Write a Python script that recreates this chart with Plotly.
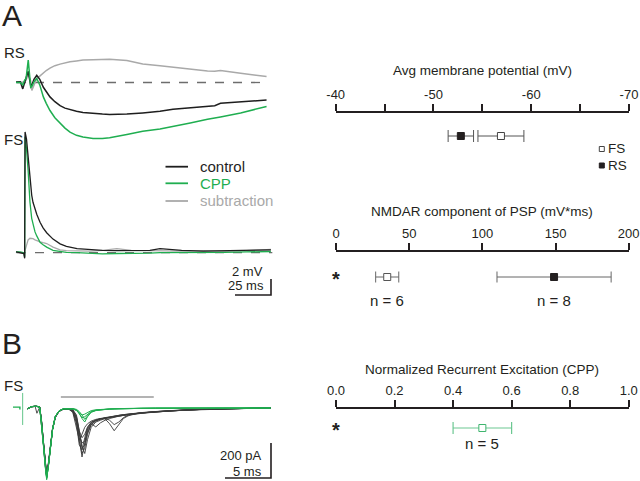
import plotly.graph_objects as go

# ---------------- DATA ----------------
# Panel A, RS cell (time in ms, membrane potential change in mV)
rs_t = [0, 3, 4.7, 6, 7, 8.5, 10.2, 11, 12.5, 14.4, 16.5, 19, 21, 23.6, 27, 30.6, 34, 37.5, 42, 46.5,
        53.5, 60, 65, 77, 88, 100, 109, 121, 133, 138, 142, 156, 165, 174]
rs_control = [0.05, 0.1, -0.8, 0.1, 0.6, 1.4, -0.4, -0.3, 0.4, 0.9, 0.4, -0.6, -1.1, -1.8, -2.4, -2.9, -3.2, -3.4,
              -3.6, -3.75, -3.9, -3.95, -4.0, -3.95, -3.8, -3.6, -3.35, -3.15, -2.95, -2.9, -2.6, -2.45, -2.35, -2.2]
rs_cpp = [0.0, 0.0, -0.3, 0.3, 0.5, 2.8, -0.6, -0.5, 0.1, 0.5, -0.3, -1.8, -2.6, -3.5, -4.4, -5.1, -5.7, -6.2,
          -6.6, -6.8, -7.0, -7.0, -6.9, -6.5, -6.1, -5.8, -5.5, -5.05, -4.6, -4.4, -4.3, -3.8, -3.4, -3.0]
rs_sub = [0, 0, 0, 0.1, 0.3, 1.0, 0.2, -1.0, -0.4, 0.5, 0.8, 1.2, 1.5, 1.8, 2.1, 2.3, 2.45, 2.6, 2.7, 2.8,
          2.85, 2.9, 2.9, 2.75, 2.3, 2.1, 1.9, 1.7, 1.45, 1.4, 1.5, 1.15, 0.95, 0.75]

# Panel A, FS cell
fs_t = [0, 3, 5.5, 6.0, 6.3, 7.3, 8.4, 9.7, 10.9, 11.8, 13.2, 14.4, 16.7, 18.8, 21.3, 25.7, 30.6, 35, 42.4, 51.4,
        60, 70, 80, 93, 100, 115, 130, 145, 160, 177]
fs_control = [0.1, 0.0, -0.1, -0.7, 15.1, 14.2, 11.8, 8.8, 7.2, 6.3, 5.4, 4.8, 3.8, 3.1, 2.5, 1.7, 1.1, 0.8, 0.5,
              0.35, 0.3, 0.25, 0.3, 0.3, 0.5, 0.3, 0.2, 0.25, 0.25, 0.35]
fs_cpp = [0.1, 0.1, 0.0, -0.5, 14.5, 13.0, 10.3, 6.3, 4.3, 3.5, 2.6, 2.1, 1.3, 1.0, 0.7, 0.3, 0.15, 0.05, 0.0,
          -0.1, -0.15, -0.1, -0.1, -0.05, 0.0, 0.0, 0.05, 0.05, 0.1, 0.15]
fs_sub = [0.0, 0.0, -0.1, -0.6, 0.3, 1.0, 1.6, 1.8, 1.8, 1.75, 1.6, 1.5, 1.35, 1.25, 1.15, 0.7, 0.35, 0.25, 0.2,
          0.2, 0.3, 0.5, 0.3, 0.25, 0.3, 0.2, 0.25, 0.2, 0.25, 0.4]
baseline_rs_t = [0.7, 175]
baseline_fs_t = [0.7, 178]

# Panel B, FS recurrent excitation currents (time in ms, current in pA)
b_t = [1.6, 2.0, 2.4, 2.6, 2.9, 3.1, 3.3, 3.5, 3.66, 3.85, 4.05, 4.3, 4.6, 5.0, 5.5, 6.0, 6.5, 6.9, 7.2, 7.5,
       7.8, 8.1, 8.5, 9.0, 9.5, 10.0, 10.5, 11.0, 11.5, 12.0, 12.5, 13.0, 14.0, 15.5, 17.0, 19.0, 21.0, 23.5, 26.0, 28.0]
b_control = [
    [-5, 8, 10, 10, 5, -80, -200, -320, -395, -320, -220, -120, -50, -18, -5, -5,
     -15, -60, -170, -280, -200, -120, -85, -70, -62, -56, -50, -46, -42, -38, -35, -32, -27, -21, -16, -11, -7, -4, -2, 0],
    [-3, 6, 9, 9, 4, -70, -190, -310, -380, -330, -230, -125, -55, -20, -6, -5,
     -20, -90, -210, -240, -170, -110, -80, -68, -60, -55, -50, -45, -41, -38, -35, -31, -26, -20, -15, -10, -7, -4, -2, 0],
    [-5, 8, 10, -30, 4, -85, -205, -330, -385, -310, -210, -115, -48, -17, -5, -6,
     -10, -40, -120, -220, -260, -180, -110, -80, -70, -60, -55, -50, -45, -41, -37, -33, -28, -22, -16, -11, -7, -4, -2, 0],
    [-4, 7, 10, 10, 6, -75, -195, -315, -390, -325, -225, -122, -52, -19, -6, -4,
     -25, -110, -180, -150, -110, -90, -75, -65, -60, -62, -90, -130, -95, -60, -45, -38, -30, -23, -17, -12, -8, -5, -2, 0],
    [-5, 8, 10, 10, 5, -78, -198, -318, -392, -322, -222, -121, -51, -18, -5, -5,
     -15, -70, -150, -200, -190, -130, -90, -108, -85, -70, -60, -52, -47, -42, -38, -34, -28, -22, -16, -11, -7, -4, -2, 0],
    [-3, 6, 9, 9, 4, -72, -192, -312, -382, -328, -228, -124, -54, -20, -6, -5,
     -10, -50, -130, -170, -150, -110, -85, -70, -62, -58, -52, -48, -44, -40, -36, -32, -27, -21, -16, -11, -7, -4, -2, 0],
    [-4, 7, 10, 10, 6, -76, -196, -316, -388, -324, -224, -121, -51, -19, -6, -4,
     -20, -80, -190, -260, -230, -150, -95, -75, -65, -57, -70, -95, -80, -55, -42, -35, -29, -22, -17, -11, -7, -4, -2, 0],
    [-5, 8, 10, 10, 5, -82, -202, -322, -397, -318, -218, -118, -49, -18, -5, -5,
     -12, -55, -140, -230, -210, -140, -95, -72, -63, -57, -52, -47, -43, -39, -36, -32, -27, -21, -15, -10, -7, -4, -2, 0],
]
b_cpp = [
    [-5, 8, 10, 10, 5, -85, -210, -330, -405, -330, -225, -120, -48, -16, -4, -3,
     -5, -10, -30, -60, -80, -50, -25, -15, -10, -8, -6, -5, -4, -3, -3, -2, -2, -1, -1, 0, 0, 0, 0, 0],
    [-4, 7, 9, 9, 4, -80, -205, -325, -400, -335, -230, -125, -50, -17, -5, -4,
     -5, -12, -35, -55, -50, -35, -20, -12, -9, -7, -6, -5, -4, -3, -3, -2, -2, -1, -1, 0, 0, 0, 0, 0],
    [-5, 8, 10, 10, 5, -88, -212, -335, -410, -328, -222, -118, -47, -16, -4, -3,
     -3, -8, -20, -40, -65, -45, -22, -14, -10, -8, -6, -5, -4, -3, -3, -2, -2, -1, -1, 0, 0, 0, 0, 0],
    [-4, 7, 9, 9, 4, -78, -200, -322, -398, -332, -228, -123, -50, -17, -5, -4,
     -6, -15, -30, -40, -35, -25, -15, -10, -8, -6, -5, -4, -3, -3, -2, -2, -1, -1, -1, 0, 0, 0, 0, 0],
]
b_artifact_t = [0.0, 0.75, 0.75]
b_artifact_v = [5, 5, -8]
b_stim_t = [1.05, 1.05]
b_stim_v = [86, -97]
b_window_t = [5.2, 15.3]
b_window_level = 63

# Scale bars
scale_a_ms, scale_a_mv = 25, 2
scale_b_ms, scale_b_pa = 5, 200

# Summary panels
groups = ["FS", "RS"]
vm_mean = [-56.9, -52.8]
vm_sem = [2.35, 1.3]
vm_ticks = [-40, -50, -60, -70]
vm_ticktext = ["-40", "-50", "-60", "-70"]
vm_minor = [-45, -55, -65]

nmda_mean = [35, 149]
nmda_sem = [7.9, 39]
nmda_n = [6, 8]
nmda_ticks = [0, 50, 100, 150, 200]

rec_mean = [0.50]
rec_sem = [0.10]
rec_n = [5]
rec_ticks = [0.0, 0.2, 0.4, 0.6, 0.8, 1.0]

# ---------------- STYLE / LAYOUT HELPERS ----------------
W, H = 640, 481
FONT = "Liberation Sans, Arial, sans-serif"
INK = "#231f20"
GREEN = "#1fae50"
GRAY = "#a9a9a9"
BLACK = "#1e1e1e"


def dom_x(p0, p1):
    return [p0 / W, p1 / W]


def dom_y(top, bottom):
    return [1 - bottom / H, 1 - top / H]


def cal_x(p0, p1, px0, ppu):
    return [(p0 - px0) / ppu, (p1 - px0) / ppu]


def cal_y(top, bottom, py0, ppu):
    return [(py0 - bottom) / ppu, (py0 - top) / ppu]


def pxx(x):
    return x / W


def pyy(y):
    return 1 - y / H


fig = go.Figure()


def line(x, y, xa, ya, color, width=1.5, dash=None, opacity=1.0):
    fig.add_trace(go.Scatter(x=x, y=y, xaxis=xa, yaxis=ya, mode="lines", opacity=opacity,
                             line=dict(color=color, width=width, dash=dash), showlegend=False,
                             hoverinfo="skip"))


# Panel A RS
line(baseline_rs_t, [0, 0], "x", "y", "#6d6d6d", 1.3, "dash")
line(rs_t, rs_sub, "x", "y", GRAY, 1.5)
line(rs_t, rs_control, "x", "y", BLACK, 1.5)
line(rs_t, rs_cpp, "x", "y", GREEN, 1.5)

# Panel A FS
line(baseline_fs_t, [0, 0], "x2", "y2", "#6d6d6d", 1.3, "dash")
line(fs_t, fs_sub, "x2", "y2", GRAY, 1.3)
line(fs_t, fs_cpp, "x2", "y2", GREEN, 1.3)
line(fs_t, fs_control, "x2", "y2", BLACK, 1.3)

# Panel B
line(b_window_t, [b_window_level] * 2, "x3", "y3", "#9a9a9a", 1.6)
line(b_artifact_t, b_artifact_v, "x3", "y3", GREEN, 1.4)
line(b_stim_t, b_stim_v, "x3", "y3", "#63c58a", 1.0)
for tr in b_control:
    line(b_t, tr, "x3", "y3", "#3a3a3a", 0.9)
for tr in b_cpp:
    line(b_t, tr, "x3", "y3", GREEN, 1.0)

# Scale bars
line([0, scale_a_ms, scale_a_ms], [0, 0, scale_a_mv], "x4", "y4", INK, 1.6)
line([0, scale_b_ms, scale_b_ms], [0, 0, scale_b_pa], "x5", "y5", INK, 1.6)

# Summary: membrane potential
fig.add_trace(go.Scatter(x=vm_mean[:1], y=[0], xaxis="x6", yaxis="y6", mode="markers",
                         marker=dict(symbol="square", size=7, color="white", line=dict(color="#444", width=1)),
                         error_x=dict(type="data", array=vm_sem[:1], color="#555", thickness=1, width=6),
                         showlegend=False, cliponaxis=False))
fig.add_trace(go.Scatter(x=vm_mean[1:], y=[0], xaxis="x6", yaxis="y6", mode="markers",
                         marker=dict(symbol="square", size=7, color=INK, line=dict(color=INK, width=1)),
                         error_x=dict(type="data", array=vm_sem[1:], color="#555", thickness=1, width=6),
                         showlegend=False, cliponaxis=False))
# Summary: NMDAR component
fig.add_trace(go.Scatter(x=nmda_mean[:1], y=[0], xaxis="x7", yaxis="y7", mode="markers",
                         marker=dict(symbol="square", size=7, color="white", line=dict(color="#555", width=1)),
                         error_x=dict(type="data", array=nmda_sem[:1], color="#666", thickness=1, width=5.5),
                         showlegend=False, cliponaxis=False))
fig.add_trace(go.Scatter(x=nmda_mean[1:], y=[0], xaxis="x7", yaxis="y7", mode="markers",
                         marker=dict(symbol="square", size=7, color=INK, line=dict(color=INK, width=1)),
                         error_x=dict(type="data", array=nmda_sem[1:], color="#666", thickness=1, width=5.5),
                         showlegend=False, cliponaxis=False))
# Summary: normalized recurrent excitation
fig.add_trace(go.Scatter(x=rec_mean, y=[0], xaxis="x8", yaxis="y8", mode="markers",
                         marker=dict(symbol="square", size=7, color="white", line=dict(color="#3fb56e", width=1)),
                         error_x=dict(type="data", array=rec_sem, color="#6cc792", thickness=1.2, width=6),
                         showlegend=False, cliponaxis=False))

hidden = dict(visible=False, fixedrange=True)
layout = dict(
    width=W, height=H, margin=dict(l=0, r=0, t=0, b=0, autoexpand=False),
    paper_bgcolor="white", plot_bgcolor="rgba(0,0,0,0)",
    font=dict(family=FONT, color=INK, size=13),
    showlegend=False,
    xaxis=dict(domain=dom_x(8, 285), range=cal_x(8, 285, 16, 1.44), **hidden),
    yaxis=dict(domain=dom_y(40, 150), range=cal_y(40, 150, 82.5, 8), **hidden),
    xaxis2=dict(domain=dom_x(8, 285), range=cal_x(8, 285, 16, 1.44), **hidden),
    yaxis2=dict(domain=dom_y(118, 268), range=cal_y(118, 268, 252.7, 8), **hidden),
    xaxis3=dict(domain=dom_x(5, 285), range=cal_x(5, 285, 13, 9.2), **hidden),
    yaxis3=dict(domain=dom_y(385, 481), range=cal_y(385, 481, 408, 0.175), **hidden),
    xaxis4=dict(domain=dom_x(225, 280), range=cal_x(225, 280, 235, 1.44), **hidden),
    yaxis4=dict(domain=dom_y(270, 300), range=cal_y(270, 300, 295, 8), **hidden),
    xaxis5=dict(domain=dom_x(215, 280), range=cal_x(215, 280, 225, 9.2), **hidden),
    yaxis5=dict(domain=dom_y(435, 481), range=cal_y(435, 481, 478, 0.175), **hidden),
)

axis_common = dict(side="top", anchor="free", showline=True, linecolor=INK, linewidth=1.6, ticks="outside",
                   tickcolor=INK, tickwidth=1.6, ticklen=7, showgrid=False, zeroline=False,
                   tickfont=dict(size=13, color=INK, family=FONT), fixedrange=True, automargin=False)
layout["xaxis6"] = dict(domain=dom_x(335.7, 629), range=[vm_ticks[0], vm_ticks[-1]], position=pyy(111.7),
                        tickvals=vm_ticks, ticktext=vm_ticktext,
                        minor=dict(tickvals=vm_minor, ticks="outside", ticklen=7, tickwidth=1.6, tickcolor=INK),
                        **axis_common)
layout["yaxis6"] = dict(domain=dom_y(100, 170), range=cal_y(100, 170, 136, 1), anchor="x6", **hidden)
layout["xaxis7"] = dict(domain=dom_x(336, 628.7), range=[nmda_ticks[0], nmda_ticks[-1]], position=pyy(250.7),
                        tickvals=nmda_ticks, **axis_common)
layout["yaxis7"] = dict(domain=dom_y(240, 320), range=cal_y(240, 320, 277, 1), anchor="x7", **hidden)
layout["xaxis8"] = dict(domain=dom_x(336, 628.7), range=[rec_ticks[0], rec_ticks[-1]], position=pyy(407.7),
                        tickvals=rec_ticks, tickformat=".1f", **axis_common)
layout["yaxis8"] = dict(domain=dom_y(400, 470), range=cal_y(400, 470, 428, 1), anchor="x8", **hidden)
fig.update_layout(**layout)


def note(text, x, y, size=13, color=INK, xanchor="center", bold=False, xref="paper"):
    fig.add_annotation(text=f"<b>{text}</b>" if bold else text, x=x, y=pyy(y), xref=xref, yref="paper",
                       xanchor=xanchor, yanchor="middle", showarrow=False,
                       font=dict(size=size, color=color, family=FONT))


# panel letters and cell labels
note("A", pxx(0), 15, size=30, xanchor="left")
note("B", pxx(0), 343, size=30, xanchor="left")
note("RS", pxx(1.5), 52.5, size=15, xanchor="left")
note("FS", pxx(1.5), 139, size=15, xanchor="left")
note("FS", pxx(1.5), 385.5, size=15, xanchor="left")

# trace legend
for name, col, yy in [("control", BLACK, 166.7), ("CPP", GREEN, 183.3), ("subtraction", GRAY, 201)]:
    fig.add_shape(type="line", xref="paper", yref="paper", x0=pxx(165.5), x1=pxx(188), y0=pyy(yy), y1=pyy(yy),
                  line=dict(color=col, width=1.8))
    note(name, pxx(198), yy, size=15, color=col, xanchor="left")

# scale bar labels
note("2 mV", pxx(264.5), 271, size=13, xanchor="right")
note("25 ms", pxx(266), 285.7, size=13, xanchor="right")
note("200 pA", pxx(264), 455.3, size=13, xanchor="right")
note("5 ms", pxx(264), 471.7, size=13, xanchor="right")

# summary titles
note("Avg membrane potential (mV)", pxx(482), 70.7, size=13.5)
note("NMDAR component of PSP (mV*ms)", pxx(482), 211.7, size=13.5)
note("Normalized Recurrent Excitation (CPP)", pxx(482), 369, size=13.5)

# group legend (FS / RS)
fig.add_shape(type="rect", xref="paper", yref="paper", x0=pxx(599.3), x1=pxx(604.3), y0=pyy(151.5), y1=pyy(146.5),
              line=dict(color="#444", width=1), fillcolor="white")
fig.add_shape(type="rect", xref="paper", yref="paper", x0=pxx(599.3), x1=pxx(604.3), y0=pyy(168), y1=pyy(163),
              line=dict(color=INK, width=1), fillcolor=INK)
note(groups[0], pxx(605.5), 149, size=13.5, xanchor="left")
note(groups[1], pxx(605.5), 165.5, size=13.5, xanchor="left")

# asterisks and n labels
note("*", pxx(335.5), 279, size=20, bold=True)
note("*", pxx(335.5), 430, size=20, bold=True)
for m, n in zip(nmda_mean, nmda_n):
    note(f"n = {n}", m, 300.7, size=15, xref="x7")
for m, n in zip(rec_mean, rec_n):
    note(f"n = {n}", m, 443, size=15, xref="x8")

fig.write_html("out.html", post_script="document.body.style.margin='0';",
               config={"displayModeBar": False})
